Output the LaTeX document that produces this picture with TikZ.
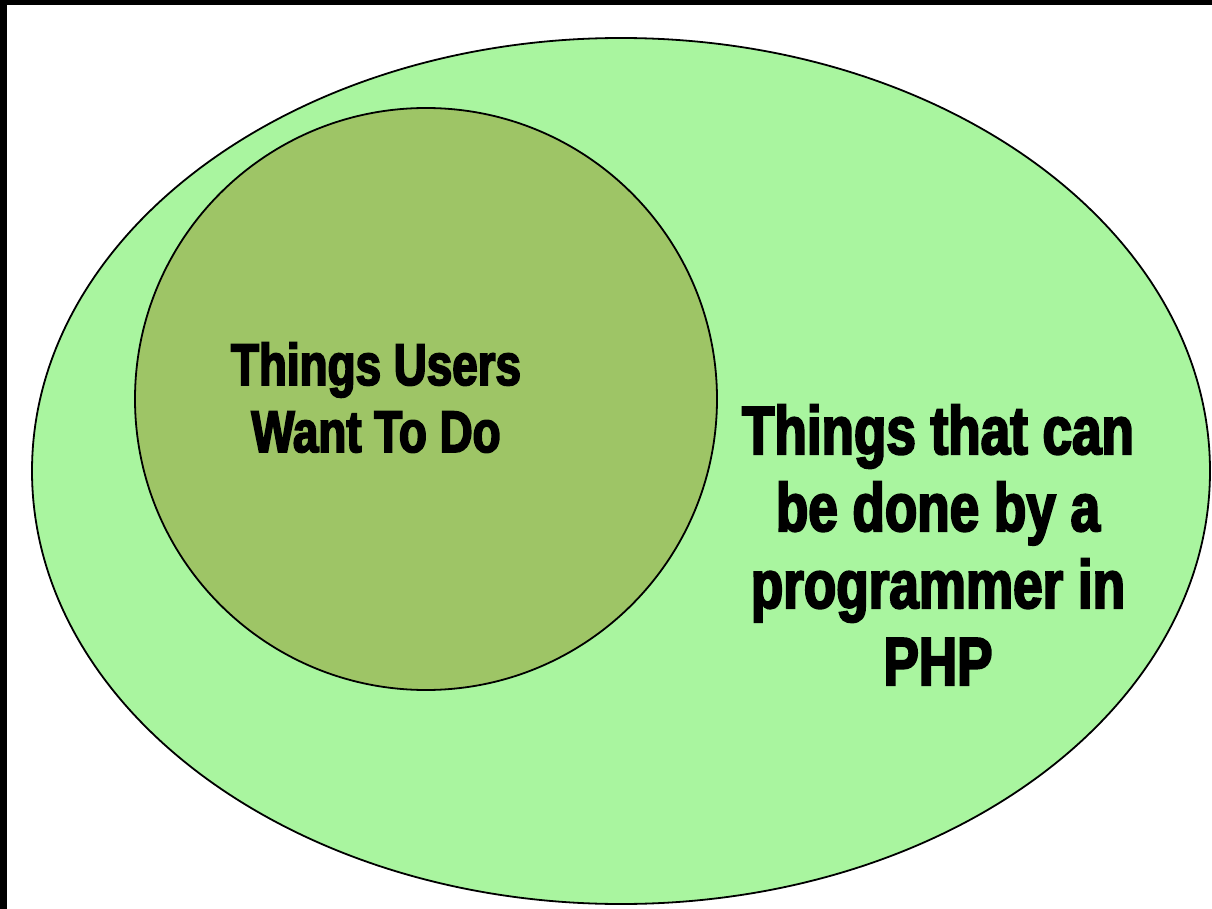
\documentclass[tikz,border=0pt]{standalone}
\usepackage{fontspec}
\newfontfamily\impact{Liberation Sans}[FakeStretch=0.78,FakeBold=3]
\definecolor{outergreen}{RGB}{169,245,159}
\definecolor{innergreen}{RGB}{158,197,102}
\tikzset{
  setshape/.style={draw=black, line width=1.8pt},
  bigtext/.style={font=\impact\bfseries\fontsize{68}{77}\selectfont, align=center, inner sep=0pt, anchor=base},
  smalltext/.style={font=\impact\bfseries\fontsize{58.7}{67}\selectfont, align=center, inner sep=0pt, anchor=base}
}
\begin{document}
\begin{tikzpicture}[x=1pt,y=-1pt]
\useasboundingbox (0,0) rectangle (1212,909);
\fill[white] (0,0) rectangle (1212,909);
\fill[black] (0,0) rectangle (1212,5);
\fill[black] (0,0) rectangle (7,909);
\draw[setshape, fill=outergreen] (621,471) ellipse [x radius=589, y radius=433];
\draw[setshape, fill=innergreen] (426,399) circle [radius=291];
\node[smalltext] (users) at (376,452) {Things Users\\Want To Do};
\node[bigtext] (php) at (938,685) {Things that can\\be done by a\\programmer in\\PHP};
\end{tikzpicture}
\end{document}
